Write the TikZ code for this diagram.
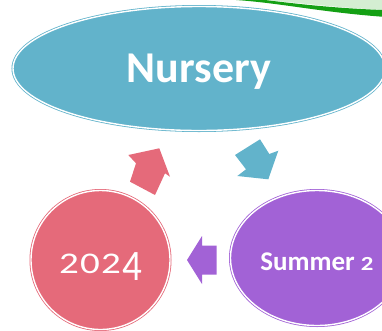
\documentclass[tikz,border=0pt]{standalone}
\usepackage{fontspec}
\usepackage{graphicx}
\setmainfont{Carlito}
\usetikzlibrary{shapes.geometric}
\definecolor{cblue}{RGB}{98,179,203}
\definecolor{cpink}{RGB}{229,106,122}
\definecolor{cpurple}{RGB}{162,98,214}
\definecolor{dgreen}{RGB}{20,160,20}
\definecolor{pgreen}{RGB}{212,238,210}
\tikzset{
  blob/.style={ellipse, inner sep=0pt, outer sep=0pt, line width=0.8pt,
    double=white, double distance=1.4pt, text=white, align=center}
}
\newcommand{\basedown}[2]{\raisebox{-#1}[0pt][0pt]{#2}}
\begin{document}
\begin{tikzpicture}[x=1pt,y=-1pt]
\useasboundingbox (0,0) rectangle (382,330);
% green swoosh
\fill[pgreen] (265,0) .. controls (290,2) and (330,7) .. (382,10) -- (382,0) -- cycle;
\fill[dgreen] (236,0) .. controls (280,3) and (320,12) .. (382,16.7)
  -- (382,10) .. controls (330,8) and (290,3) .. (265,0) -- cycle;
% nodes
\node[blob, fill=cblue, draw=cblue, minimum width=372pt, minimum height=124pt]
  (top) at (199,68.5) {\basedown{13.8pt}{\fontsize{44}{48}\selectfont\bfseries Nursery}};
\node[blob, fill=cpink, draw=cpink, minimum width=139pt, minimum height=139pt]
  (left) at (100.5,260) {\basedown{13pt}{\fontsize{30}{34}\selectfont\scalebox{1.3}[1]{2\kern1pt0\kern1pt2\kern1pt\raisebox{-7pt}{\scalebox{1}[1.45]{4}}}}};
\node[blob, fill=cpurple, draw=cpurple, minimum width=173pt, minimum height=135pt]
  (right) at (317,258) {\basedown{12pt}{\fontsize{27}{30}\selectfont\bfseries Summer \scalebox{0.92}[0.74]{2}}};
% arrows
\fill[cblue] (235,155) -- (260,139.3) -- (269.3,154) -- (278.3,150.7)
  -- (268.3,179.3) -- (237.3,176) -- (246,169.3) -- cycle;
\fill[cpurple] (187,260) -- (202,236) -- (202,245.5) -- (216.5,245.5)
  -- (216.5,274.5) -- (202,274.5) -- (202,284) -- cycle;
\fill[cpink] (128.3,155) -- (159.3,148.3) -- (170,176.7) -- (165,173.3)
  -- (155,195) -- (130,181.7) -- (136,163.3) -- cycle;
\end{tikzpicture}
\end{document}
